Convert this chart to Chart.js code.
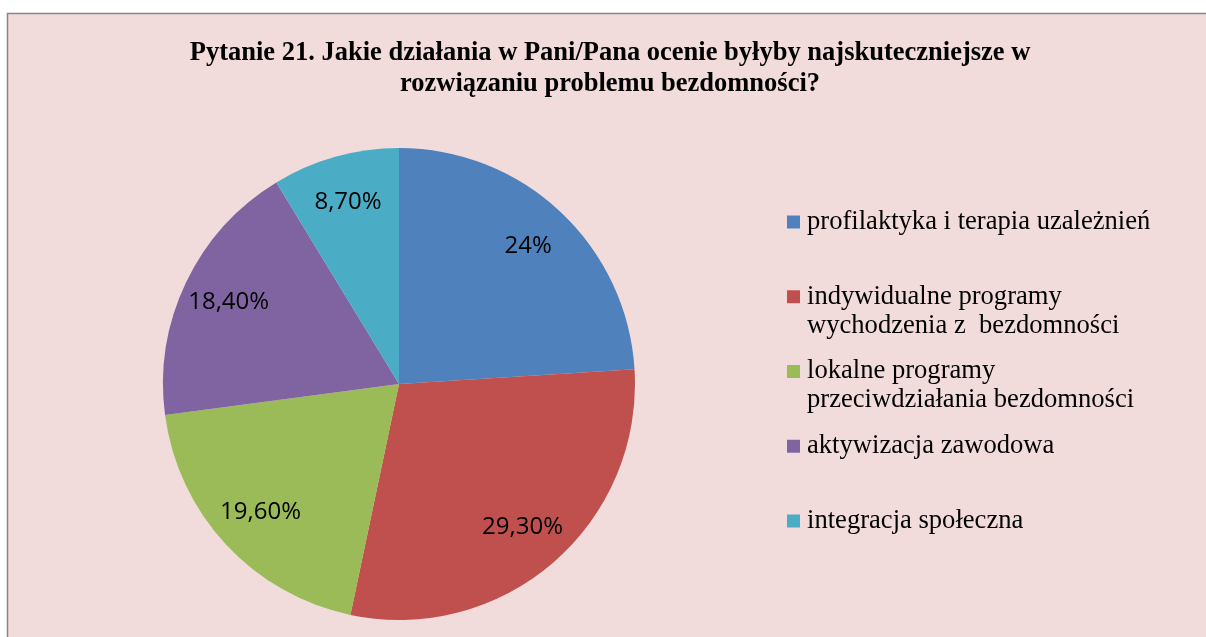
<!DOCTYPE html>
<html>
<head>
<meta charset="utf-8">
<script src="https://cdn.jsdelivr.net/npm/chart.js@4/dist/chart.umd.min.js"></script>
<style>
  html, body { margin: 0; padding: 0; background: #fff; }
  #wrap { width: 1206px; height: 637px; }
</style>
</head>
<body>
<div id="wrap"><canvas id="myChart" width="1206" height="637"></canvas></div>
<script>
let categories = [
    'profilaktyka i terapia uzależnień',
    'indywidualne programy\nwychodzenia z  bezdomności',
    'lokalne programy\nprzeciwdziałania bezdomności',
    'aktywizacja zawodowa',
    'integracja społeczna'
];
let values = [24, 29.3, 19.6, 18.4, 8.7];
let colors = ['#4F81BD', '#C0504D', '#9BBB59', '#8064A2', '#4BACC6'];
let titleLines = [
    'Pytanie 21. Jakie działania w Pani/Pana ocenie byłyby najskuteczniejsze w',
    'rozwiązaniu problemu bezdomności?'
];

function fmt(v) {
    return Number.isInteger(v) ? v + '%' : v.toFixed(2).replace('.', ',') + '%';
}

// background box, title, legend and slice labels, drawn Excel-like
let excelLook = {
    id: 'excelLook',
    beforeDraw(chart) {
        let c = chart.ctx;
        c.save();
        c.fillStyle = '#ffffff';
        c.fillRect(0, 0, chart.width, chart.height);
        c.fillStyle = '#F2DCDB';
        c.fillRect(8, 14, chart.width, chart.height);
        c.strokeStyle = '#868686';
        c.lineWidth = 1.5;
        c.beginPath();
        c.moveTo(7.5, chart.height);
        c.lineTo(7.5, 13.5);
        c.lineTo(chart.width, 13.5);
        c.stroke();
        c.restore();
    },
    afterDatasetsDraw(chart) {
        let c = chart.ctx;
        let meta = chart.getDatasetMeta(0);
        c.save();
        c.fillStyle = '#000';
        c.font = '24px "Open Sans"';
        c.textAlign = 'center';
        c.textBaseline = 'middle';
        meta.data.forEach((arc, i) => {
            let p = arc.getProps(['x', 'y', 'startAngle', 'endAngle', 'outerRadius'], true);
            let mid = (p.startAngle + p.endAngle) / 2;
            let r = p.outerRadius * 0.8;
            c.fillText(fmt(values[i]), p.x + Math.cos(mid) * r, p.y + Math.sin(mid) * r);
        });

        // title
        c.font = 'bold 26.5px "Liberation Serif"';
        c.textBaseline = 'alphabetic';
        c.fillText(titleLines[0], 610, 60);
        c.fillText(titleLines[1], 610, 91);

        // legend
        c.textAlign = 'left';
        c.textBaseline = 'middle';
        c.font = '26.6px "Liberation Serif"';
        categories.forEach((lab, i) => {
            let y = 222 + 74.75 * i;
            c.fillStyle = colors[i];
            c.fillRect(787, y - 6.5, 13, 13);
            c.fillStyle = '#000';
            lab.split('\n').forEach((line, j) => {
                c.fillText(line, 807, y + j * 29);
            });
        });
        c.restore();
    }
};

let ctx = document.getElementById('myChart').getContext('2d');
let pieChart = new Chart(ctx, {
    type: 'pie',
    data: {
        labels: categories,
        datasets: [{
            data: values,
            backgroundColor: colors,
            borderWidth: 0
        }]
    },
    options: {
        responsive: false,
        animation: false,
        layout: { padding: { left: 163, right: 571, top: 148, bottom: 17 } },
        plugins: {
            legend: { display: false },
            tooltip: { enabled: false },
            title: { display: false }
        }
    },
    plugins: [excelLook]
});
</script>
</body>
</html>
